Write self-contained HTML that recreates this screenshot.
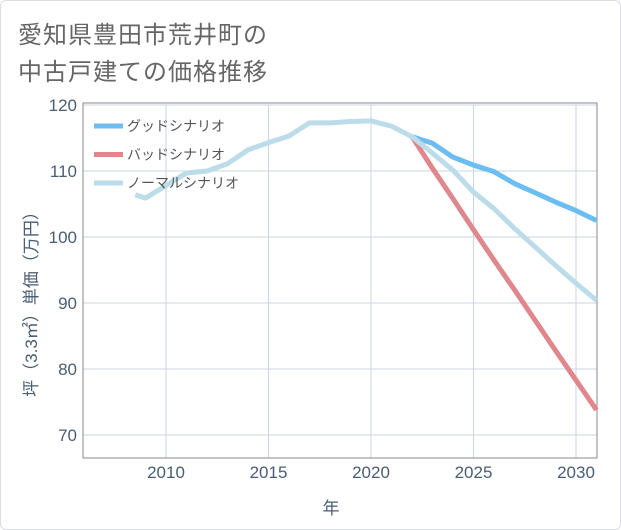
<!DOCTYPE html>
<html><head><meta charset="utf-8"><style>
body{margin:0;background:#fff;}
#wrap{position:relative;width:619px;height:528px;border:1px solid #d8dde3;border-radius:6px;overflow:hidden;font-family:"Liberation Sans","Noto Sans CJK JP",sans-serif;}
.title{position:absolute;left:17px;font-size:24px;color:#666;letter-spacing:1px;}
</style></head><body>
<div id="wrap">
<div class="title" style="top:14px">愛知県豊田市荒井町の</div>
<div class="title" style="top:51px">中古戸建ての価格推移</div>
<svg id="chart" width="621" height="530" style="position:absolute;left:-1px;top:-1px"></svg>
</div>
<script>
const years=[2008.5,2009,2010,2011,2012,2013,2014,2015,2016,2017,2018,2019,2020,2021,2022,2023,2024,2025,2026,2027,2028,2029,2030,2031];
const normalVals=[106.4,105.9,107.8,109.7,110.0,111.1,113.2,114.3,115.3,117.3,117.3,117.5,117.6,116.8,115.2,112.7,110.1,106.8,104.3,101.3,98.5,95.7,93.0,90.4];
const futureYears=[2022,2023,2024,2025,2026,2027,2028,2029,2030,2031];
const goodVals=[115.2,114.2,112.1,110.9,109.9,108.1,106.7,105.3,104.0,102.5];
const badVals=[115.2,110.4,105.8,101.1,96.5,92.0,87.4,82.8,78.3,73.8];
const yTicks=[70,80,90,100,110,120];
const xTicks=[2010,2015,2020,2025,2030];
const seriesNames=["グッドシナリオ","バッドシナリオ","ノーマルシナリオ"];

const L=83,R=597,T=105,B=458;
const xS=y=>166+(y-2010)*20.5;
const yS=v=>105+(120-v)*6.6;
const svg=document.getElementById('chart');
const NS='http://www.w3.org/2000/svg';
function mk(tag,attrs,parent){const e=document.createElementNS(NS,tag);for(const k in attrs)e.setAttribute(k,attrs[k]);(parent||svg).appendChild(e);return e;}
yTicks.forEach(v=>{
 const l=mk('line',{x1:L,x2:R,y1:yS(v),y2:yS(v),stroke:'#c9d5e2','stroke-width':1});
 
 
 const t=mk('text',{x:77,y:yS(v)+6,'text-anchor':'end','font-size':17,fill:'#4a5d73'});
 t.textContent=v;
 
 
});
xTicks.forEach(v=>{
 const l=mk('line',{x1:xS(v),x2:xS(v),y1:T,y2:B,stroke:'#c9d5e2','stroke-width':1});
 
 
 const t=mk('text',{x:xS(v),y:478,'text-anchor':'middle','font-size':17,fill:'#4a5d73'});
 t.textContent=v;
 
 
});
const fr=mk('rect',{x:L,y:T-2,width:R-L,height:B-T+2,fill:'none',stroke:'#888','stroke-width':1});


function line(xs,vs,color,name){
 const p=mk('polyline',{points:xs.map((x,i)=>xS(x)+','+yS(vs[i])).join(' '),fill:'none',stroke:color,'stroke-width':5,'stroke-linejoin':'round'});
 
 
}
line(futureYears,goodVals,'#6cbdf2','good-scenario-line');
line(futureYears,badVals,'#e0868d','bad-scenario-line');
line(years,normalVals,'#bcdcea','normal-scenario-line');
const colors=['#6cbdf2','#e0868d','#bcdcea'];
seriesNames.forEach((n,i)=>{
 const y=126+i*28.5;
 const s=mk('line',{x1:94,x2:123,y1:y,y2:y,stroke:colors[i],'stroke-width':5});
 
 
 const t=mk('text',{x:127,y:y+5,'font-size':14,fill:'#555'});
 t.textContent=n;
 
 
});
const xt=mk('text',{x:331,y:514,'text-anchor':'middle','font-size':17,fill:'#4a5d73'});
xt.textContent='年';


const yt=mk('text',{x:0,y:0,'text-anchor':'middle','font-size':17,fill:'#4a5d73',transform:'translate(37,300) rotate(-90)'});
yt.textContent='坪（3.3㎡）単価（万円）';


</script>
</body></html>
